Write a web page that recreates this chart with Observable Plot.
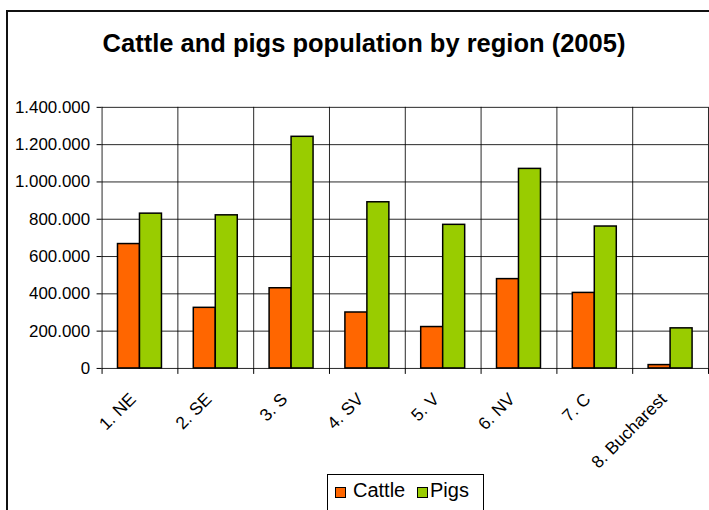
<!DOCTYPE html>
<html>
<head>
<meta charset="utf-8">
<script src="https://cdn.jsdelivr.net/npm/d3@7"></script>
<script src="https://cdn.jsdelivr.net/npm/@observablehq/plot@0.6"></script>
<style>
  html, body { margin: 0; padding: 0; background: #fff; overflow: hidden; width: 709px; height: 510px; }
  body { position: relative; font-family: "Liberation Sans", Arial, sans-serif; }
  #frame { position: absolute; left: 6px; top: 10px; width: 760px; height: 560px; border: 2px solid #111; box-sizing: border-box; }
  #title { position: absolute; left: 0; width: 728px; top: 31.2px; text-align: center; font-weight: bold; font-size: 25.5px; line-height: 25px; color: #000; white-space: nowrap; }
  #chart { position: absolute; left: 0; top: 0; }
  #legend { position: absolute; left: 327px; top: 474px; width: 157px; height: 60px; border: 1px solid #000; box-sizing: border-box; background: #fff; }
  #legend .sw { position: absolute; width: 11px; height: 11px; border: 1px solid #000; box-sizing: border-box; top: 12px; }
  #legend .lb { position: absolute; top: 5px; font-size: 20px; line-height: 20px; color: #000; white-space: nowrap; }
</style>
</head>
<body>
<div id="frame"></div>
<div id="title">Cattle and pigs population by region (2005)</div>
<div id="chart"></div>
<div id="legend"></div>
<script>
const regions = ["1. NE", "2. SE", "3. S", "4. SV", "5. V", "6. NV", "7. C", "8. Bucharest"];
const cattle = [667000, 325000, 430000, 300000, 222000, 479000, 405000, 18000];
const pigs = [830000, 821000, 1242000, 891000, 770000, 1070000, 761000, 215000];
const seriesNames = ["Cattle", "Pigs"];
const seriesColors = ["#FF6600", "#99CC00"];
const yTicks = [0, 200000, 400000, 600000, 800000, 1000000, 1200000, 1400000];

const rows = [];
regions.forEach((r, i) => {
  rows.push({i, region: r, series: "Cattle", value: cattle[i]});
  rows.push({i, region: r, series: "Pigs", value: pigs[i]});
});

const fmt = d3.formatLocale({decimal: ",", thousands: ".", grouping: [3], currency: ["", ""]}).format(",");
const boundaries = d3.range(regions.length + 1);
const centers = regions.map((_, i) => i + 0.5);
const barStart = {Cattle: 0.21, Pigs: 0.5};
const barEnd = {Cattle: 0.5, Pigs: 0.79};

const chart = Plot.plot({
  width: 712,
  height: 470,
  marginLeft: 102,
  marginRight: 1,
  marginTop: 107.3,
  marginBottom: 100.5,
  style: {fontFamily: "'Liberation Sans', Arial, sans-serif", fontSize: "17px", color: "#000", background: "transparent", overflow: "visible"},
  x: {domain: [0, regions.length], axis: null},
  y: {domain: [0, 1400000], axis: null},
  color: {domain: seriesNames, range: seriesColors},
  marks: [
    Plot.gridY(yTicks, {stroke: "#000", strokeOpacity: 0.85}),
    Plot.gridX(boundaries, {stroke: "#000", strokeOpacity: 0.85}),
    Plot.rectY(rows, {
      x1: d => d.i + barStart[d.series],
      x2: d => d.i + barEnd[d.series],
      y1: 0,
      y2: "value",
      fill: "series",
      stroke: "#000",
      strokeWidth: 1.5
    }),
    Plot.axisY(yTicks, {tickSize: 5, tickPadding: 7, tickFormat: fmt, fontSize: 17, stroke: "#000", label: null}),
    Plot.axisX(boundaries, {tickSize: 6, tickFormat: () => "", stroke: "#000", label: null}),
    Plot.axisX(centers, {tickSize: 0, tickPadding: 28, tickRotate: -45, fontSize: 17.5, dx: -7, label: null, tickFormat: v => regions[Math.floor(v)]})
  ]
});
document.getElementById("chart").appendChild(chart);

const legend = document.getElementById("legend");
const swX = [7, 89];
const lbX = [25, 102];
seriesNames.forEach((s, k) => {
  const sw = document.createElement("span");
  sw.className = "sw";
  sw.style.left = swX[k] + "px";
  sw.style.background = seriesColors[k];
  legend.appendChild(sw);
  const lb = document.createElement("span");
  lb.className = "lb";
  lb.style.left = lbX[k] + "px";
  lb.textContent = s;
  legend.appendChild(lb);
});
</script>
</body>
</html>
